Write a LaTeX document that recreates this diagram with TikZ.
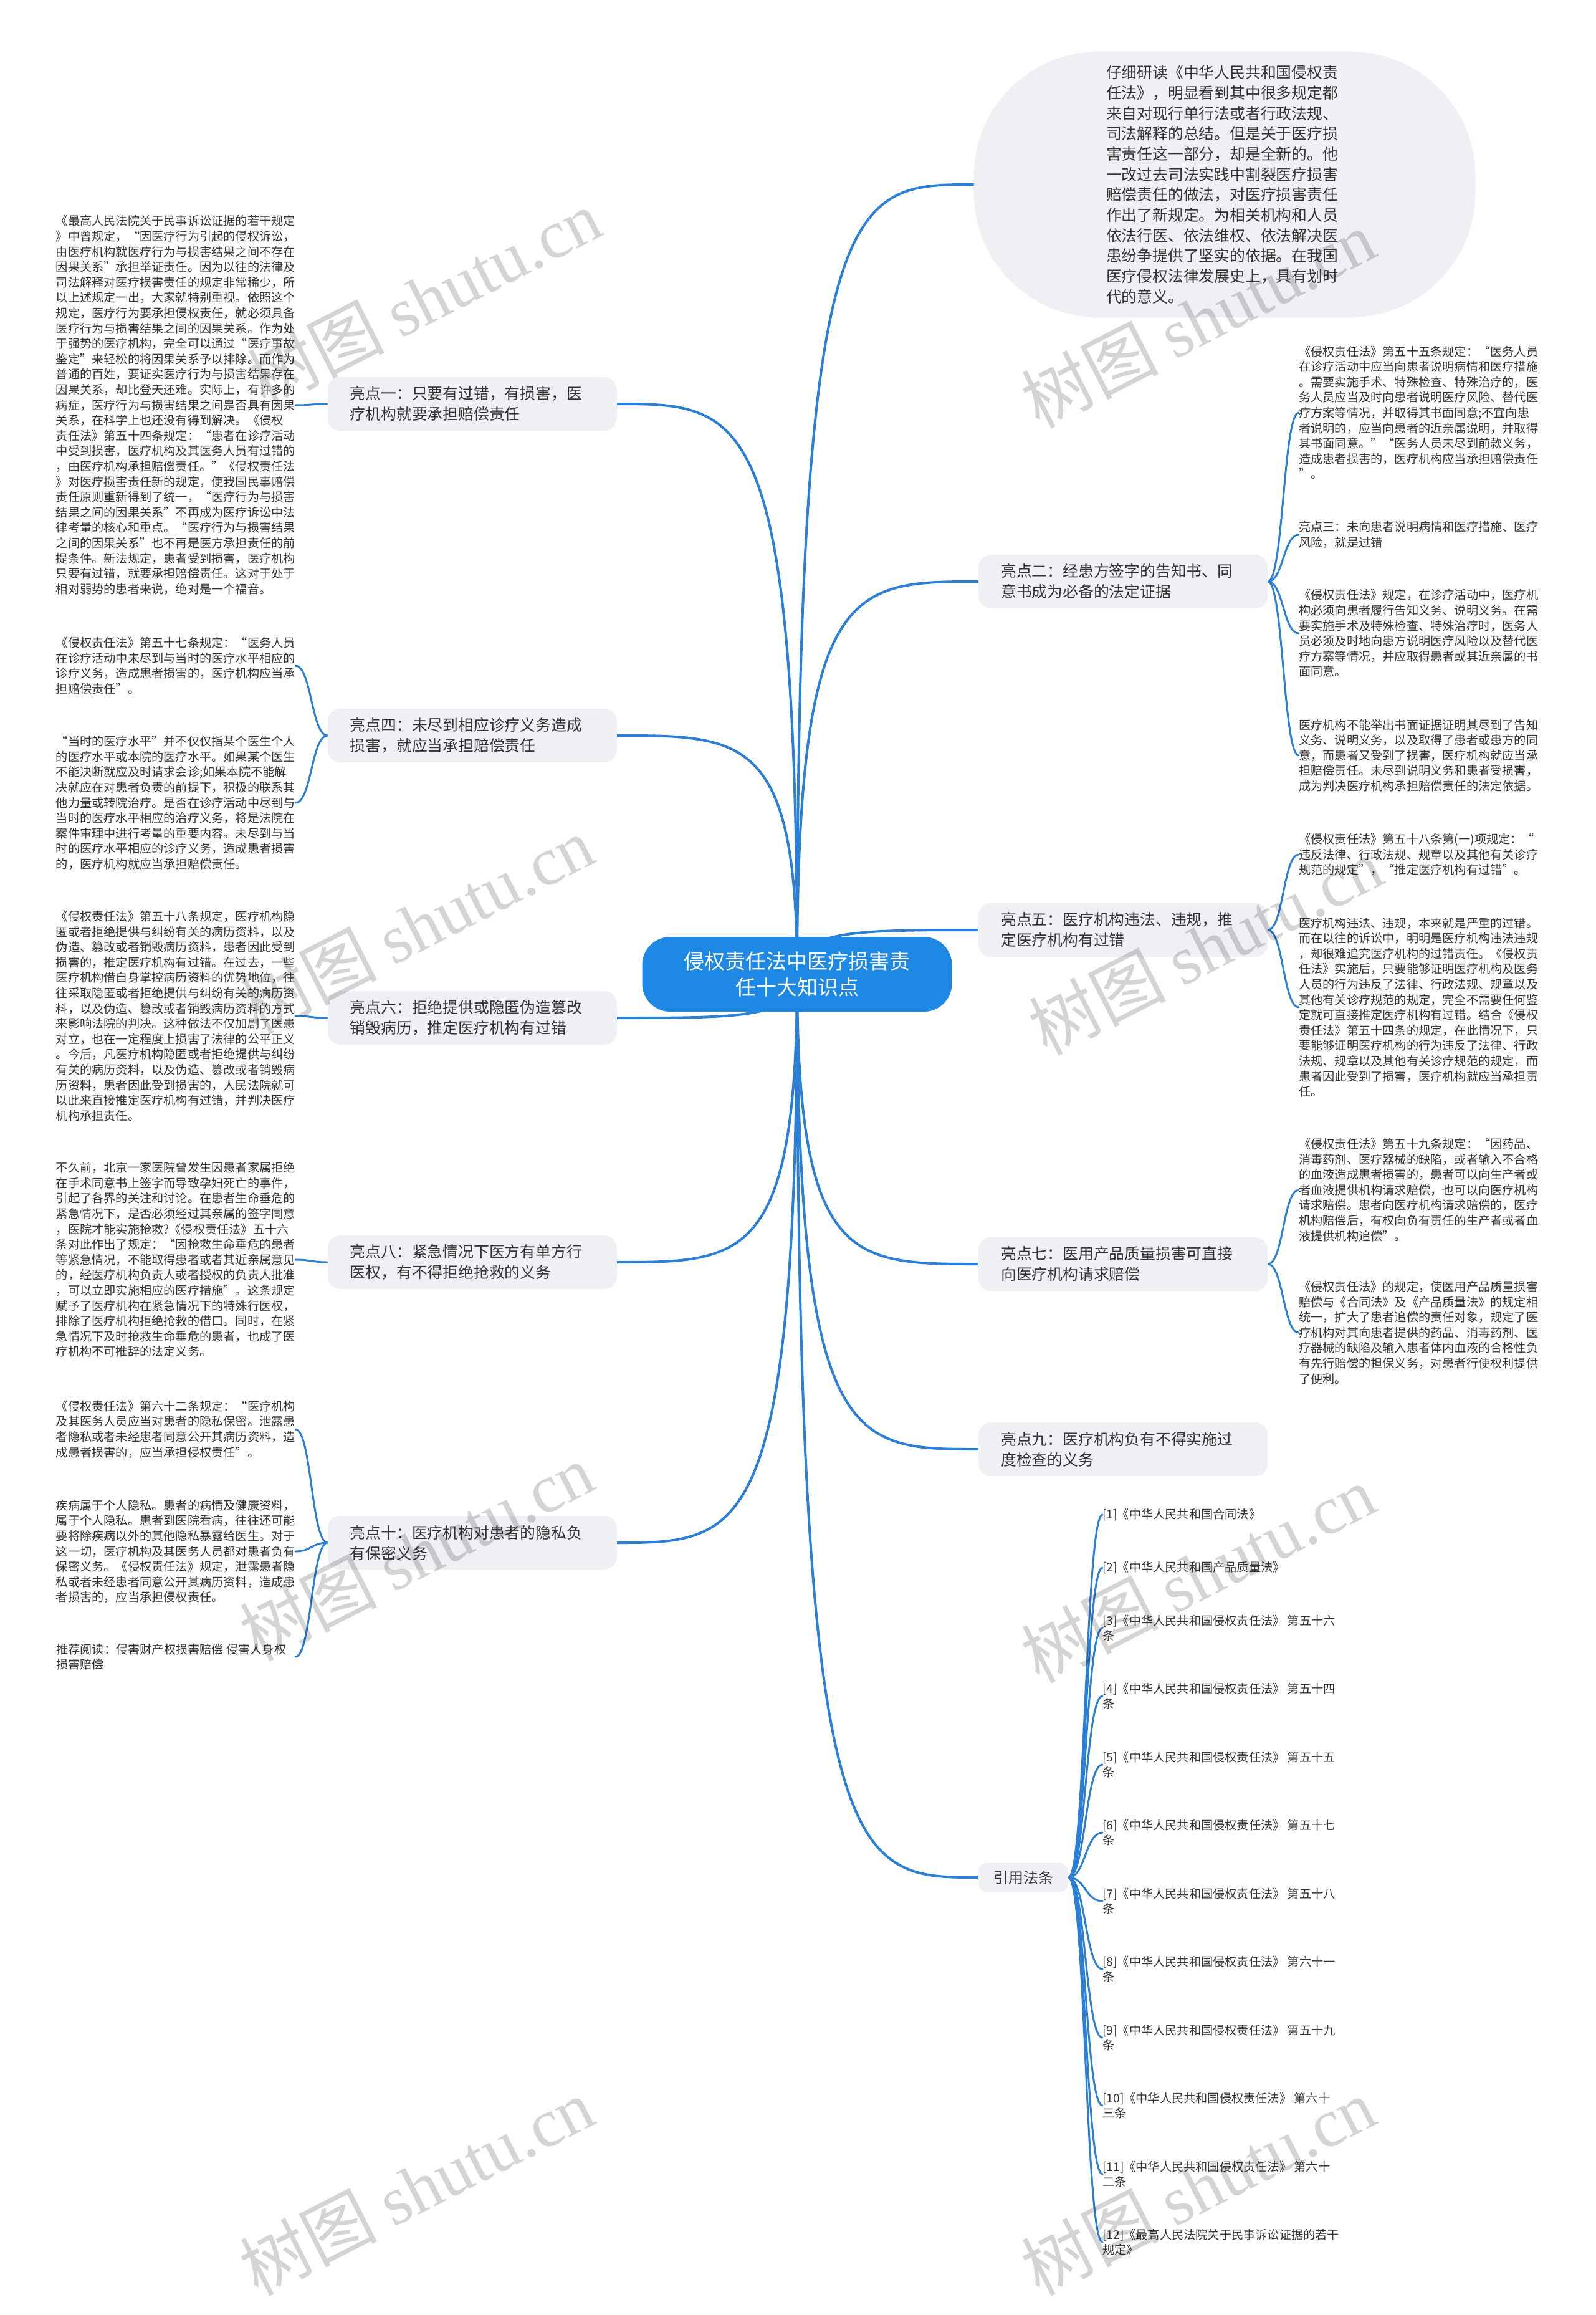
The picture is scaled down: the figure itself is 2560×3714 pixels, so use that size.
\documentclass[tikz,border=0pt]{standalone}
\usepackage{fontspec}
\setmainfont{Noto Sans CJK SC}
\newfontfamily\wmserif{Liberation Serif}
\usetikzlibrary{calc,backgrounds}
\definecolor{linec}{HTML}{2B7FD6}
\definecolor{centerc}{HTML}{1E88E5}
\definecolor{nodebg}{HTML}{EEF0F3}
\definecolor{txtc}{HTML}{333333}
\begin{document}
\begin{tikzpicture}[x=1pt,y=-1pt,
  every node/.style={text=txtc},
  centernode/.style={fill=centerc, rounded corners=45pt, text=white, minimum width=497pt, minimum height=120pt, inner sep=0pt, align=center, font=\fontsize{33}{42.6}\selectfont},
  topnode/.style={fill=nodebg, rounded corners=200pt, minimum width=805pt, minimum height=426pt, inner sep=0pt, text width=380pt, align=left, font=\fontsize{24.8}{32.7}\selectfont},
  mainnode/.style={fill=nodebg, rounded corners=20pt, text width=392pt, inner xsep=36pt, inner ysep=0pt, minimum height=86pt, align=left, font=\fontsize{24.8}{33}\selectfont},
  refnode/.style={fill=nodebg, rounded corners=14pt, inner xsep=24pt, inner ysep=0pt, minimum height=47pt, font=\fontsize{24}{30}\selectfont},
  note/.style={align=left, inner sep=0pt, font=\fontsize{19.2}{24.6}\selectfont},
  lnote/.style={note, anchor=east},
  rnote/.style={note, anchor=west},
  mainlink/.style={line width=4pt, draw=linec, line cap=round, to path={.. controls (\tikztostart |- \tikztotarget) and ($(\tikztostart |- \tikztotarget)!0.3!(\tikztotarget)$) .. (\tikztotarget)}},
  childlink/.style={line width=3pt, draw=linec, line cap=round, to path={.. controls ($(\tikztostart)!0.5!(\tikztostart -| \tikztotarget)$) and ($(\tikztotarget)!0.5!(\tikztotarget -| \tikztostart)$) .. (\tikztotarget)}},
  wm/.style={rotate=27, text=black, text opacity=0.17, inner sep=0pt, font=\fontsize{110}{110}\selectfont}
]
\useasboundingbox (0,0) rectangle (2560,3714);

% ---------- main nodes ----------
\node[centernode] (c) at (1279,1563) {侵权责任法中医疗损害责\\任十大知识点};

\node[topnode] (t) at (1965,296) {仔细研读《中华人民共和国侵权责\\任法》，明显看到其中很多规定都\\来自对现行单行法或者行政法规、\\司法解释的总结。但是关于医疗损\\害责任这一部分，却是全新的。他\\一改过去司法实践中割裂医疗损害\\赔偿责任的做法，对医疗损害责任\\作出了新规定。为相关机构和人员\\依法行医、依法维权、依法解决医\\患纷争提供了坚实的依据。在我国\\医疗侵权法律发展史上，具有划时\\代的意义。};

\node[mainnode, anchor=east] (b1) at (990,648) {亮点一：只要有过错，有损害，医\\疗机构就要承担赔偿责任};
\node[mainnode, anchor=east] (b4) at (990,1180) {亮点四：未尽到相应诊疗义务造成\\损害，就应当承担赔偿责任};
\node[mainnode, anchor=east] (b6) at (990,1633) {亮点六：拒绝提供或隐匿伪造篡改\\销毁病历，推定医疗机构有过错};
\node[mainnode, anchor=east] (b8) at (990,2025) {亮点八：紧急情况下医方有单方行\\医权，有不得拒绝抢救的义务};
\node[mainnode, anchor=east] (b10) at (990,2475) {亮点十：医疗机构对患者的隐私负\\有保密义务};

\node[mainnode, anchor=west] (b2) at (1570,933) {亮点二：经患方签字的告知书、同\\意书成为必备的法定证据};
\node[mainnode, anchor=west] (b5) at (1570,1492) {亮点五：医疗机构违法、违规，推\\定医疗机构有过错};
\node[mainnode, anchor=west] (b7) at (1570,2028) {亮点七：医用产品质量损害可直接\\向医疗机构请求赔偿};
\node[mainnode, anchor=west] (b9) at (1570,2325) {亮点九：医疗机构负有不得实施过\\度检查的义务};
\node[refnode, anchor=west] (bref) at (1570,3012) {引用法条};

% ---------- left notes ----------
\node[lnote] (n1) at (474,650) {《最高人民法院关于民事诉讼证据的若干规定\\》中曾规定，“因医疗行为引起的侵权诉讼，\\由医疗机构就医疗行为与损害结果之间不存在\\因果关系”承担举证责任。因为以往的法律及\\司法解释对医疗损害责任的规定非常稀少，所\\以上述规定一出，大家就特别重视。依照这个\\规定，医疗行为要承担侵权责任，就必须具备\\医疗行为与损害结果之间的因果关系。作为处\\于强势的医疗机构，完全可以通过“医疗事故\\鉴定”来轻松的将因果关系予以排除。而作为\\普通的百姓，要证实医疗行为与损害结果存在\\因果关系，却比登天还难。实际上，有许多的\\病症，医疗行为与损害结果之间是否具有因果\\关系，在科学上也还没有得到解决。《侵权\\责任法》第五十四条规定：“患者在诊疗活动\\中受到损害，医疗机构及其医务人员有过错的\\，由医疗机构承担赔偿责任。”《侵权责任法\\》对医疗损害责任新的规定，使我国民事赔偿\\责任原则重新得到了统一，“医疗行为与损害\\结果之间的因果关系”不再成为医疗诉讼中法\\律考量的核心和重点。“医疗行为与损害结果\\之间的因果关系”也不再是医方承担责任的前\\提条件。新法规定，患者受到损害，医疗机构\\只要有过错，就要承担赔偿责任。这对于处于\\相对弱势的患者来说，绝对是一个福音。};

\node[lnote] (n4a) at (474,1068) {《侵权责任法》第五十七条规定：“医务人员\\在诊疗活动中未尽到与当时的医疗水平相应的\\诊疗义务，造成患者损害的，医疗机构应当承\\担赔偿责任”。};
\node[lnote] (n4b) at (474,1288) {“当时的医疗水平”并不仅仅指某个医生个人\\的医疗水平或本院的医疗水平。如果某个医生\\不能决断就应及时请求会诊;如果本院不能解\\决就应在对患者负责的前提下，积极的联系其\\他力量或转院治疗。是否在诊疗活动中尽到与\\当时的医疗水平相应的治疗义务，将是法院在\\案件审理中进行考量的重要内容。未尽到与当\\时的医疗水平相应的诊疗义务，造成患者损害\\的，医疗机构就应当承担赔偿责任。};

\node[lnote] (n6) at (474,1630) {《侵权责任法》第五十八条规定，医疗机构隐\\匿或者拒绝提供与纠纷有关的病历资料，以及\\伪造、篡改或者销毁病历资料，患者因此受到\\损害的，推定医疗机构有过错。在过去，一些\\医疗机构借自身掌控病历资料的优势地位，往\\往采取隐匿或者拒绝提供与纠纷有关的病历资\\料，以及伪造、篡改或者销毁病历资料的方式\\来影响法院的判决。这种做法不仅加剧了医患\\对立，也在一定程度上损害了法律的公平正义\\。今后，凡医疗机构隐匿或者拒绝提供与纠纷\\有关的病历资料，以及伪造、篡改或者销毁病\\历资料，患者因此受到损害的，人民法院就可\\以此来直接推定医疗机构有过错，并判决医疗\\机构承担责任。};

\node[lnote] (n8) at (474,2021) {不久前，北京一家医院曾发生因患者家属拒绝\\在手术同意书上签字而导致孕妇死亡的事件，\\引起了各界的关注和讨论。在患者生命垂危的\\紧急情况下，是否必须经过其亲属的签字同意\\，医院才能实施抢救?《侵权责任法》五十六\\条对此作出了规定：“因抢救生命垂危的患者\\等紧急情况，不能取得患者或者其近亲属意见\\的，经医疗机构负责人或者授权的负责人批准\\，可以立即实施相应的医疗措施”。这条规定\\赋予了医疗机构在紧急情况下的特殊行医权，\\排除了医疗机构拒绝抢救的借口。同时，在紧\\急情况下及时抢救生命垂危的患者，也成了医\\疗机构不可推辞的法定义务。};

\node[lnote] (n10a) at (474,2293) {《侵权责任法》第六十二条规定：“医疗机构\\及其医务人员应当对患者的隐私保密。泄露患\\者隐私或者未经患者同意公开其病历资料，造\\成患者损害的，应当承担侵权责任”。};
\node[lnote] (n10b) at (474,2489) {疾病属于个人隐私。患者的病情及健康资料，\\属于个人隐私。患者到医院看病，往往还可能\\要将除疾病以外的其他隐私暴露给医生。对于\\这一切，医疗机构及其医务人员都对患者负有\\保密义务。《侵权责任法》规定，泄露患者隐\\私或者未经患者同意公开其病历资料，造成患\\者损害的，应当承担侵权责任。};
\node[note, anchor=west] (n10c) at (90,2658) {推荐阅读：侵害财产权损害赔偿 侵害人身权\\损害赔偿};

% ---------- right notes ----------
\node[rnote] (n2a) at (2084,662) {《侵权责任法》第五十五条规定：“医务人员\\在诊疗活动中应当向患者说明病情和医疗措施\\。需要实施手术、特殊检查、特殊治疗的，医\\务人员应当及时向患者说明医疗风险、替代医\\疗方案等情况，并取得其书面同意;不宜向患\\者说明的，应当向患者的近亲属说明，并取得\\其书面同意。”“医务人员未尽到前款义务，\\造成患者损害的，医疗机构应当承担赔偿责任\\”。};
\node[rnote] (n2b) at (2084,858) {亮点三：未向患者说明病情和医疗措施、医疗\\风险，就是过错};
\node[rnote] (n2c) at (2084,1016) {《侵权责任法》规定，在诊疗活动中，医疗机\\构必须向患者履行告知义务、说明义务。在需\\要实施手术及特殊检查、特殊治疗时，医务人\\员必须及时地向患方说明医疗风险以及替代医\\疗方案等情况，并应取得患者或其近亲属的书\\面同意。};
\node[rnote] (n2d) at (2084,1212) {医疗机构不能举出书面证据证明其尽到了告知\\义务、说明义务，以及取得了患者或患方的同\\意，而患者又受到了损害，医疗机构就应当承\\担赔偿责任。未尽到说明义务和患者受损害，\\成为判决医疗机构承担赔偿责任的法定依据。};

\node[rnote] (n5a) at (2084,1371) {《侵权责任法》第五十八条第(一)项规定：“\\违反法律、行政法规、规章以及其他有关诊疗\\规范的规定”，“推定医疗机构有过错”。};
\node[rnote] (n5b) at (2084,1616) {医疗机构违法、违规，本来就是严重的过错。\\而在以往的诉讼中，明明是医疗机构违法违规\\，却很难追究医疗机构的过错责任。《侵权责\\任法》实施后，只要能够证明医疗机构及医务\\人员的行为违反了法律、行政法规、规章以及\\其他有关诊疗规范的规定，完全不需要任何鉴\\定就可直接推定医疗机构有过错。结合《侵权\\责任法》第五十四条的规定，在此情况下，只\\要能够证明医疗机构的行为违反了法律、行政\\法规、规章以及其他有关诊疗规范的规定，而\\患者因此受到了损害，医疗机构就应当承担责\\任。};

\node[rnote] (n7a) at (2084,1909) {《侵权责任法》第五十九条规定：“因药品、\\消毒药剂、医疗器械的缺陷，或者输入不合格\\的血液造成患者损害的，患者可以向生产者或\\者血液提供机构请求赔偿，也可以向医疗机构\\请求赔偿。患者向医疗机构请求赔偿的，医疗\\机构赔偿后，有权向负有责任的生产者或者血\\液提供机构追偿”。};
\node[rnote] (n7b) at (2084,2138) {《侵权责任法》的规定，使医用产品质量损害\\赔偿与《合同法》及《产品质量法》的规定相\\统一，扩大了患者追偿的责任对象，规定了医\\疗机构对其向患者提供的药品、消毒药剂、医\\疗器械的缺陷及输入患者体内血液的合格性负\\有先行赔偿的担保义务，对患者行使权利提供\\了便利。};

% ---------- references ----------
\node[rnote] (r1) at (1769,2430) {[1]《中华人民共和国合同法》};
\node[rnote] (r2) at (1769,2515) {[2]《中华人民共和国产品质量法》};
\node[rnote] (r3) at (1769,2612) {[3]《中华人民共和国侵权责任法》 第五十六\\条};
\node[rnote] (r4) at (1769,2721) {[4]《中华人民共和国侵权责任法》 第五十四\\条};
\node[rnote] (r5) at (1769,2831) {[5]《中华人民共和国侵权责任法》 第五十五\\条};
\node[rnote] (r6) at (1769,2940) {[6]《中华人民共和国侵权责任法》 第五十七\\条};
\node[rnote] (r7) at (1769,3050) {[7]《中华人民共和国侵权责任法》 第五十八\\条};
\node[rnote] (r8) at (1769,3159) {[8]《中华人民共和国侵权责任法》 第六十一\\条};
\node[rnote] (r9) at (1769,3269) {[9]《中华人民共和国侵权责任法》 第五十九\\条};
\node[rnote] (r10) at (1769,3378) {[10]《中华人民共和国侵权责任法》 第六十\\三条};
\node[rnote] (r11) at (1769,3488) {[11]《中华人民共和国侵权责任法》 第六十\\二条};
\node[rnote] (r12) at (1769,3597) {[12]《最高人民法院关于民事诉讼证据的若干\\规定》};

% ---------- connectors ----------
\begin{scope}[on background layer]
\fill[white] (0,0) rectangle (2560,3714);
\draw[mainlink] (c.center) to (t.west);
\draw[mainlink] (c.center) to (b1.east);
\draw[mainlink] (c.center) to (b4.east);
\draw[mainlink] (c.center) to (b6.east);
\draw[mainlink] (c.center) to (b8.east);
\draw[mainlink] (c.center) to (b10.east);
\draw[mainlink] (c.center) to (b2.west);
\draw[mainlink] (c.center) to (b5.west);
\draw[mainlink] (c.center) to (b7.west);
\draw[mainlink] (c.center) to (b9.west);
\draw[mainlink] (c.center) to (bref.west);

\draw[childlink] (b1.west) to (n1.east);
\draw[childlink] (b4.west) to (n4a.east);
\draw[childlink] (b4.west) to (n4b.east);
\draw[childlink] (b6.west) to (n6.east);
\draw[childlink] (b8.west) to (n8.east);
\draw[childlink] (b10.west) to (n10a.east);
\draw[childlink] (b10.west) to (n10b.east);
\draw[childlink] (b10.west) to (n10c.east -| n10a.east);

\draw[childlink] (b2.east) to (n2a.west);
\draw[childlink] (b2.east) to (n2b.west);
\draw[childlink] (b2.east) to (n2c.west);
\draw[childlink] (b2.east) to (n2d.west);
\draw[childlink] (b5.east) to (n5a.west);
\draw[childlink] (b5.east) to (n5b.west);
\draw[childlink] (b7.east) to (n7a.west);
\draw[childlink] (b7.east) to (n7b.west);

\draw[childlink] (bref.east) to (r1.west);
\draw[childlink] (bref.east) to (r2.west);
\draw[childlink] (bref.east) to (r3.west);
\draw[childlink] (bref.east) to (r4.west);
\draw[childlink] (bref.east) to (r5.west);
\draw[childlink] (bref.east) to (r6.west);
\draw[childlink] (bref.east) to (r7.west);
\draw[childlink] (bref.east) to (r8.west);
\draw[childlink] (bref.east) to (r9.west);
\draw[childlink] (bref.east) to (r10.west);
\draw[childlink] (bref.east) to (r11.west);
\draw[childlink] (bref.east) to (r12.west);
\end{scope}

% ---------- watermarks ----------
\node[wm] (wm1) at (680,478) {树图 {\wmserif shutu.cn}};
\node[wm] (wm2) at (1922,512) {树图 {\wmserif shutu.cn}};
\node[wm] (wm3) at (668,1484) {树图 {\wmserif shutu.cn}};
\node[wm] (wm4) at (1934,1518) {树图 {\wmserif shutu.cn}};
\node[wm] (wm5) at (668,2490) {树图 {\wmserif shutu.cn}};
\node[wm] (wm6) at (1922,2525) {树图 {\wmserif shutu.cn}};
\node[wm] (wm7) at (668,3508) {树图 {\wmserif shutu.cn}};
\node[wm] (wm8) at (1922,3508) {树图 {\wmserif shutu.cn}};
\end{tikzpicture}
\end{document}
